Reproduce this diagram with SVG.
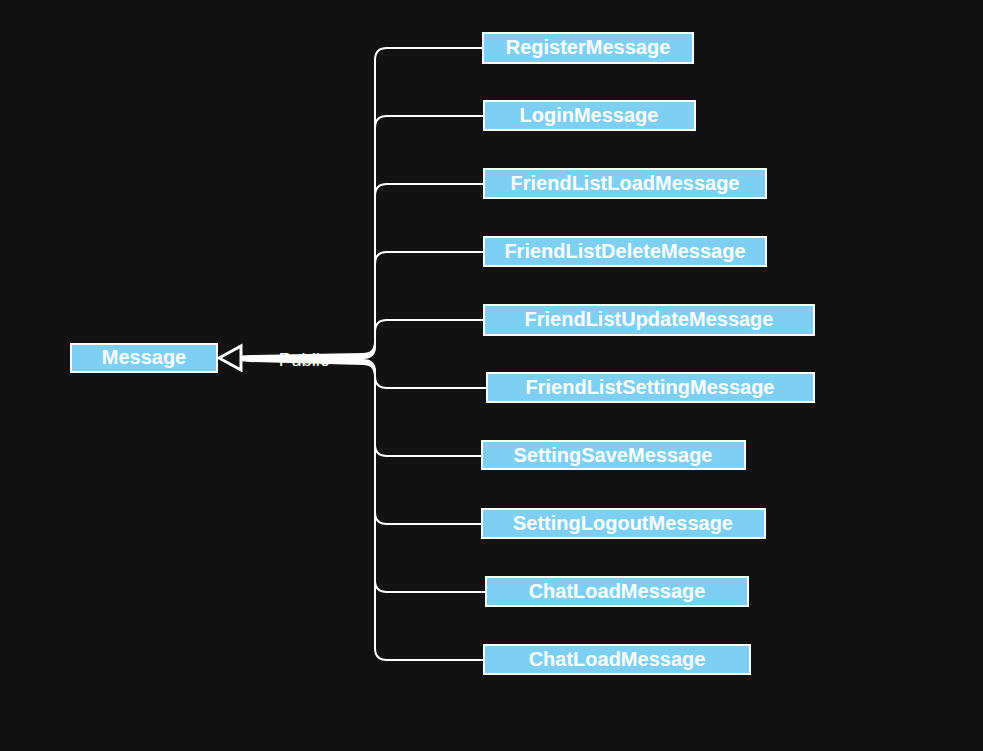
<svg xmlns="http://www.w3.org/2000/svg" width="983" height="751" viewBox="0 0 983 751">
<defs>
<style>
.box{fill:#7ecff4;stroke:#ffffff;stroke-width:2}
.lbl{font-family:"Liberation Sans",Arial,sans-serif;font-weight:bold;font-size:20px;fill:#ffffff;text-anchor:middle;dominant-baseline:central}
.edge{fill:none;stroke:#ffffff;stroke-width:2}
.el{font-family:"Liberation Sans",Arial,sans-serif;font-size:18.5px;fill:#ffffff;text-anchor:middle;dominant-baseline:central}
</style>
<marker id="tri" markerUnits="userSpaceOnUse" markerWidth="28" markerHeight="30" refX="25" refY="14" orient="auto" viewBox="0 0 28 30">
<path d="M3,2 L25,14 L3,26 Z" fill="#121212" stroke="#ffffff" stroke-width="3"/>
</marker>
</defs>
<rect width="983" height="751" fill="#121212"/>
<g id="connectors">
<path class="edge" d="M483,48 L387,48 Q375,48 375,60 L375,342 Q375,354 363,354 L250,356 L219,358"/>
<path class="edge" d="M484,116 L387,116 Q375,116 375,128 L375,343 Q375,355 363,355 L250,357 L219,358"/>
<path class="edge" d="M484,184 L387,184 Q375,184 375,196 L375,344 Q375,356 363,356 L250,357 L219,358"/>
<path class="edge" d="M484,252 L387,252 Q375,252 375,264 L375,345 Q375,357 363,357 L219,358"/>
<path class="edge" d="M484,320 L387,320 Q375,320 375,332 L375,346 Q375,358 363,358 L219,358"/>
<path class="edge" d="M482,456 L387,456 Q375,456 375,444 L375,373 Q375,361 363,361 L250,359 L219,358"/>
<path class="edge" d="M482,524 L387,524 Q375,524 375,512 L375,374 Q375,362 363,362 L250,360 L219,358"/>
<path class="edge" d="M486,592 L387,592 Q375,592 375,580 L375,375 Q375,363 363,363 L250,360 L219,358"/>
<path class="edge" d="M484,660 L387,660 Q375,660 375,648 L375,376 Q375,364 363,364 L250,361 L219,358"/>
<path class="edge" d="M487,388 L387,388 Q375,388 375,376 L375,372 Q375,360 363,360 L250,358 L219,358" marker-end="url(#tri)"/>
<text class="el" x="304" y="359">Public</text>
</g>
<g id="Message"><rect class="box" x="71" y="344" width="146" height="28"/><text class="lbl" x="144" y="357">Message</text></g>
<g id="RegisterMessage"><rect class="box" x="483" y="33" width="210" height="30"/><text class="lbl" x="588" y="47">RegisterMessage</text></g>
<g id="LoginMessage"><rect class="box" x="484" y="101" width="211" height="29"/><text class="lbl" x="589" y="115">LoginMessage</text></g>
<g id="FriendListLoadMessage"><rect class="box" x="484" y="169" width="282" height="29"/><text class="lbl" x="625" y="183">FriendListLoadMessage</text></g>
<g id="FriendListDeleteMessage"><rect class="box" x="484" y="237" width="282" height="29"/><text class="lbl" x="625" y="251">FriendListDeleteMessage</text></g>
<g id="FriendListUpdateMessage"><rect class="box" x="484" y="305" width="330" height="30"/><text class="lbl" x="649" y="319">FriendListUpdateMessage</text></g>
<g id="FriendListSettingMessage"><rect class="box" x="487" y="373" width="327" height="29"/><text class="lbl" x="650" y="387">FriendListSettingMessage</text></g>
<g id="SettingSaveMessage"><rect class="box" x="482" y="441" width="263" height="28"/><text class="lbl" x="613" y="455">SettingSaveMessage</text></g>
<g id="SettingLogoutMessage"><rect class="box" x="482" y="509" width="283" height="29"/><text class="lbl" x="623" y="523">SettingLogoutMessage</text></g>
<g id="ChatLoadMessage1"><rect class="box" x="486" y="577" width="262" height="29"/><text class="lbl" x="617" y="591">ChatLoadMessage</text></g>
<g id="ChatLoadMessage2"><rect class="box" x="484" y="645" width="266" height="29"/><text class="lbl" x="617" y="659">ChatLoadMessage</text></g>
</svg>
